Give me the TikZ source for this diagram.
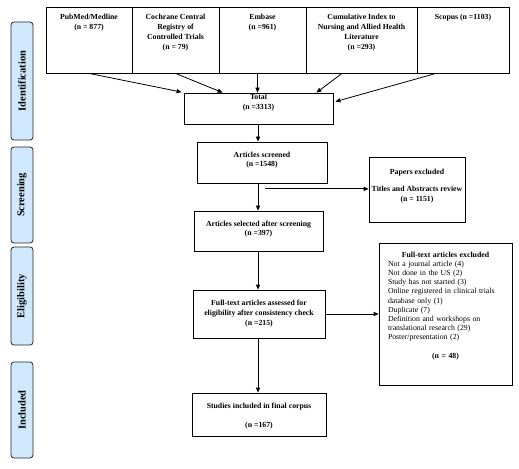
\documentclass[tikz,border=0pt]{standalone}
\usepackage{fontspec}
\setmainfont{Liberation Serif}
\usetikzlibrary{arrows.meta,calc}
\definecolor{sidefill}{RGB}{208,233,255}
\begin{document}
\begin{tikzpicture}[x=1bp,y=-1bp,
  box/.style={draw, line width=0.8bp, inner sep=0pt},
  txt/.style={font=\fontsize{7.8}{10}\selectfont\bfseries, align=center, inner sep=0pt, anchor=north},
  plain/.style={font=\fontsize{7.8}{9.2}\selectfont, align=left, inner sep=0pt, anchor=north, text width=115bp},
  side/.style={draw=black!85, line width=0.8bp, fill=sidefill, rounded corners=3bp, minimum width=22bp, inner sep=0pt},
  sidetxt/.style={font=\fontsize{10.5}{12}\selectfont\bfseries, rotate=90, inner sep=0pt},
  arr/.style={line width=0.8bp, -{Triangle[length=5bp,width=4.2bp]}}]
\useasboundingbox (0,0) rectangle (519,469);

% side stage labels
\node[side, minimum height=118bp] (sid) at (22,81) {};
\node[sidetxt] (sidt) at (sid.center) {Identification};
\node[side, minimum height=96bp] (sscr) at (22,195) {};
\node[sidetxt] (sscrt) at (sscr.center) {Screening};
\node[side, minimum height=98bp] (sel) at (22,296) {};
\node[sidetxt] (selt) at (sel.center) {Eligibility};
\node[side, minimum height=96bp] (sinc) at (22,410) {};
\node[sidetxt] (sinct) at (sinc.center) {Included};

% top source boxes
\node[box, minimum width=86bp, minimum height=66bp] (pub) at (89,40) {};
\node[box, minimum width=87bp, minimum height=66bp] (coch) at (175.5,40) {};
\node[box, minimum width=87bp, minimum height=66bp] (emb) at (262.5,40) {};
\node[box, minimum width=111bp, minimum height=66bp] (cin) at (361.5,40) {};
\node[box, minimum width=92bp, minimum height=66bp] (sco) at (463,40) {};
\node[txt] (pubt) at ($(pub.north)+(0,7.5)$) {PubMed/Medline\\(n = 877)};
\node[txt] (cocht) at ($(coch.north)+(0,7.5)$) {Cochrane Central\\Registry of\\Controlled Trials\\(n = 79)};
\node[txt] (embt) at ($(emb.north)+(0,7.5)$) {Embase\\(n =961)};
\node[txt] (cint) at ($(cin.north)+(0,7.5)$) {Cumulative Index to\\Nursing and Allied Health\\Literature\\(n =293)};
\node[txt] (scot) at ($(sco.north)+(0,7.5)$) {Scopus (n =1103)};

% flow boxes
\node[box, minimum width=149bp, minimum height=31bp] (tot) at (258.5,108.5) {};
\node[txt] (tott) at ($(tot.north)+(0,1.2)$) {Total\\(n =3313)};
\node[box, minimum width=130bp, minimum height=41bp] (scr) at (262,162.5) {};
\node[txt] (scrt) at ($(scr.north)+(0,10)$) {Articles screened\\[-1bp](n =1548)};
\node[box, minimum width=129bp, minimum height=40bp] (slc) at (258.5,231) {};
\node[txt] (slct) at ($(slc.north)+(0,10)$) {Articles selected after screening\\[-1bp](n =397)};
\node[box, minimum width=132bp, minimum height=48bp] (ass) at (259,314) {};
\node[txt] (asst) at ($(ass.north)+(0,10)$) {Full-text articles assessed for\\eligibility after consistency check\\(n =215)};
\node[box, minimum width=134bp, minimum height=43bp] (inc) at (259,414.5) {};
\node[txt] (inct) at ($(inc.north)+(0,10)$) {Studies included in final corpus\\[9bp](n =167)};

% exclusion boxes
\node[box, minimum width=96bp, minimum height=65bp] (pap) at (417,189.5) {};
\node[txt] (papt) at ($(pap.north)+(0,12)$) {Papers excluded\\[7bp]Titles and Abstracts review\\(n = 1151)};
\node[box, minimum width=133bp, minimum height=142bp] (ftx) at (445.5,314) {};
\node[plain] (ftxt) at ($(ftx.north)+(0,9)$) {\hbox to \hsize{\hfil\textbf{Full-text articles excluded}\hfil}\\
Not a journal article (4)\\
Not done in the US (2)\\
Study has not started (3)\\
Online registered in clinical trials\\
database only (1)\\
Duplicate (7)\\
Definition and workshops on\\
translational research (29)\\
Poster/presentation (2)\\[9.3bp]
\hbox to \hsize{\hfil\textbf{(n = 48)}\hfil}};

% connectors
\draw[arr] (pub.south) -- ($(tot.north west)+(-2,-0.5)$);
\draw[arr] (coch.south) -- ($(tot.north west)+(39,0)$);
\draw[arr] ($(emb.south)+(-5,0)$) coordinate (e1) -- (e1 |- tot.north);
\draw[arr] ($(cin.south)+(-19.5,0)$) -- ($(tot.north east)+(-17,0)$);
\draw[arr] ($(sco.south)+(-27,0)$) -- ($(tot.north east)+(2,9)$);
\draw[arr] ($(tot.south)+(-0.5,0)$) coordinate (t1) -- (t1 |- scr.north);
\draw[arr] (t1 |- scr.south) -- (t1 |- slc.north);
\coordinate (br) at ($(scr.south)+(3,5.5)$);
\draw[arr] (br) -- (br -| pap.west);
\draw[arr] (t1 |- slc.south) -- (t1 |- ass.north);
\draw[arr] (t1 |- ass.south) -- (t1 |- inc.north);
\draw[arr] (ass.east) -- (ftx.west);
\end{tikzpicture}
\end{document}
